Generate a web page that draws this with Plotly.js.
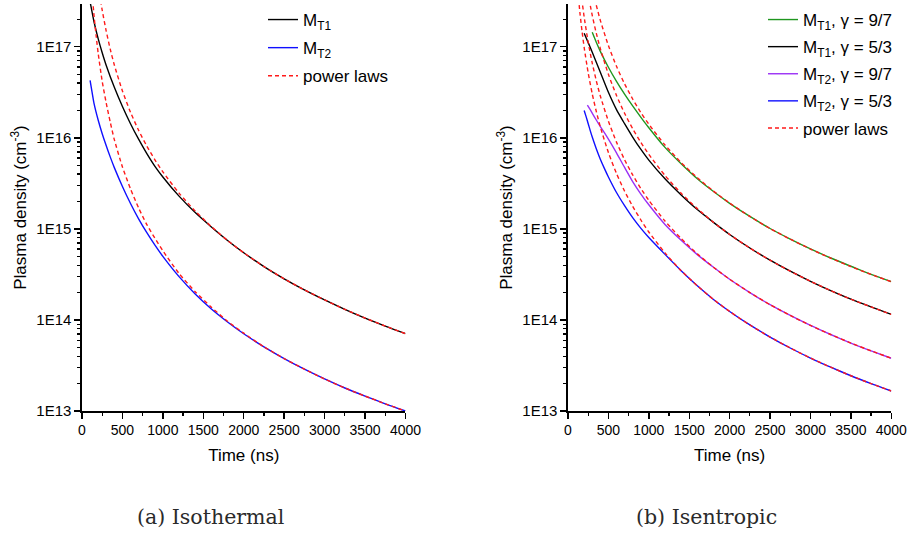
<!DOCTYPE html>
<html>
<head>
<meta charset="utf-8">
<script src="https://cdn.plot.ly/plotly-3.0.1.min.js"></script>
<style>html,body{margin:0;padding:0;background:#fff;}#chart{width:912px;height:537px;}</style>
</head>
<body>
<div id="chart"></div>
<script>
// ---------- (a) Isothermal ----------
var isoT1Time = [100,150,200,250,300,400,500,600,700,800,900,1000,1200,1400,1600,1800,2000,2250,2500,2750,3000,3250,3500,3750,4000];
var isoT1Dens = [3.13e17,1.86e17,1.23e17,8.61e16,6.24e16,3.59e16,2.21e16,1.43e16,9.66e15,6.76e15,4.90e15,3.72e15,2.29e15,1.51e15,1.05e15,7.46e14,5.47e14,3.86e14,2.83e14,2.14e14,1.66e14,1.31e14,1.05e14,8.57e13,7.08e13];

var isoT1PLTime = [230,250,300,350,400,500,600,700,800,900,1000,1200,1400,1600,1800,2000,2250,2500,2750,3000,3250,3500,3750,4000];
var isoT1PLDens = [3.23e17,2.52e17,1.48e17,9.35e16,6.31e16,3.27e16,1.91e16,1.21e16,8.17e15,5.77e15,4.23e15,2.47e15,1.57e15,1.06e15,7.46e14,5.47e14,3.86e14,2.83e14,2.14e14,1.66e14,1.31e14,1.05e14,8.57e13,7.08e13];

var isoT2Time = [100,125,150,200,250,300,350,400,500,600,700,800,900,1000,1200,1400,1600,1800,2000,2250,2500,2750,3000,3250,3500,3750,4000];
var isoT2Dens = [4.27e16,3.16e16,2.36e16,1.57e16,1.11e16,8.17e15,6.14e15,4.71e15,2.92e15,1.90e15,1.29e15,9.14e14,6.67e14,4.99e14,2.99e14,1.93e14,1.32e14,9.51e13,7.06e13,5.07e13,3.77e13,2.88e13,2.25e13,1.79e13,1.46e13,1.20e13,1.00e13];

var isoT2PLTime = [125,150,175,200,250,300,350,400,500,600,700,800,900,1000,1200,1400,1600,1800,2000,2250,2500,2750,3000,3250,3500,3750,4000];
var isoT2PLDens = [3.98e17,2.14e17,1.32e17,8.51e16,4.17e16,2.40e16,1.48e16,9.55e15,4.79e15,2.75e15,1.70e15,1.12e15,7.94e14,5.75e14,3.24e14,2.04e14,1.38e14,9.66e13,7.16e13,5.07e13,3.77e13,2.88e13,2.25e13,1.79e13,1.46e13,1.20e13,1.00e13];

// ---------- (b) Isentropic ----------
var T1g97Time = [300,350,400,500,600,700,800,900,1000,1200,1400,1600,1800,2000,2250,2500,2750,3000,3250,3500,3750,4000];
var T1g97Dens = [1.44e17,1.12e17,8.91e16,5.96e16,4.17e16,3.02e16,2.24e16,1.69e16,1.29e16,7.85e15,5.19e15,3.55e15,2.57e15,1.91e15,1.37e15,1.01e15,7.73e14,6.03e14,4.79e14,3.89e14,3.16e14,2.63e14];
var T1g97PLTime = [330,350,400,500,600,700,800,900,1000,1200,1400,1600,1800,2000,2250,2500,2750,3000,3250,3500,3750,4000];
var T1g97PLDens = [3.39e17,2.86e17,1.95e17,1.03e17,6.10e16,3.92e16,2.67e16,1.90e16,1.41e16,8.34e15,5.35e15,3.65e15,2.60e15,1.92e15,1.37e15,1.01e15,7.71e14,6.01e14,4.78e14,3.86e14,3.16e14,2.63e14];

var T1g53Time = [200,250,300,400,500,600,700,800,900,1000,1200,1400,1600,1800,2000,2250,2500,2750,3000,3250,3500,3750,4000];
var T1g53Dens = [1.41e17,1.11e17,8.71e16,5.25e16,3.16e16,2.04e16,1.43e16,1.02e16,7.50e15,5.69e15,3.55e15,2.36e15,1.63e15,1.18e15,8.69e14,6.17e14,4.53e14,3.43e14,2.66e14,2.10e14,1.69e14,1.39e14,1.15e14];
var T1g53PLTime = [260,300,350,400,500,600,700,800,900,1000,1200,1400,1600,1800,2000,2250,2500,2750,3000,3250,3500,3750,4000];
var T1g53PLDens = [3.36e17,2.21e17,1.41e17,9.55e16,4.98e16,2.92e16,1.86e16,1.26e16,8.95e15,6.58e15,3.86e15,2.46e15,1.67e15,1.18e15,8.69e14,6.17e14,4.53e14,3.43e14,2.66e14,2.10e14,1.69e14,1.39e14,1.15e14];

var T2g97Time = [240,275,310,350,400,450,500,600,700,800,900,1000,1200,1400,1600,1800,2000,2250,2500,2750,3000,3250,3500,3750,4000];
var T2g97Dens = [2.29e16,2.04e16,1.80e16,1.57e16,1.33e16,1.14e16,9.66e15,6.84e15,4.73e15,3.31e15,2.43e15,1.84e15,1.12e15,7.50e14,5.22e14,3.79e14,2.80e14,2.00e14,1.47e14,1.12e14,8.71e13,6.92e13,5.58e13,4.58e13,3.80e13];
var T2g97PLTime = [170,200,250,300,350,400,500,600,700,800,900,1000,1200,1400,1600,1800,2000,2250,2500,2750,3000,3250,3500,3750,4000];
var T2g97PLDens = [3.39e17,2.12e17,1.12e17,6.61e16,4.24e16,2.88e16,1.52e16,8.97e15,5.75e15,3.92e15,2.79e15,2.06e15,1.22e15,7.82e14,5.32e14,3.79e14,2.80e14,2.00e14,1.47e14,1.12e14,8.71e13,6.92e13,5.58e13,4.58e13,3.80e13];

var T2g53Time = [200,225,250,275,300,350,400,450,500,600,700,800,900,1000,1200,1400,1600,1800,2000,2250,2500,2750,3000,3250,3500,3750,4000];
var T2g53Dens = [2.00e16,1.70e16,1.43e16,1.20e16,1.02e16,7.59e15,5.82e15,4.62e15,3.72e15,2.51e15,1.80e15,1.33e15,1.02e15,8.04e14,5.25e14,3.47e14,2.37e14,1.68e14,1.24e14,8.81e13,6.49e13,4.92e13,3.82e13,3.03e13,2.44e13,2.00e13,1.66e13];
var T2g53PLTime = [130,150,175,200,250,300,350,400,500,600,700,800,900,1000,1200,1400,1600,1800,2000,2250,2500,2750,3000,3250,3500,3750,4000];
var T2g53PLDens = [3.43e17,2.26e17,1.45e17,9.84e16,5.15e16,3.04e16,1.95e16,1.32e16,6.90e15,4.06e15,2.60e15,1.77e15,1.26e15,9.25e14,5.45e14,3.48e14,2.37e14,1.68e14,1.24e14,8.81e13,6.49e13,4.92e13,3.82e13,3.03e13,2.44e13,2.00e13,1.66e13];

var xTickVals = [0,500,1000,1500,2000,2500,3000,3500,4000];
var yTickVals = [1e13,1e14,1e15,1e16,1e17];
var yTickText = ['1E13','1E14','1E15','1E16','1E17'];
var captions = ['(a) Isothermal','(b) Isentropic'];

// ---------- styling ----------
var FONT = '"Liberation Sans", Arial, sans-serif';
var RED = '#ff1a1a';
var DASH = '4px,3px';
var LW = 1.4;

function solid(x, y, name, color, xa, ya, leg, grp) {
  return {type:'scatter', mode:'lines', x:x, y:y, name:name, xaxis:xa, yaxis:ya, legend:leg, legendgroup:grp,
          line:{color:color, width:LW, shape:'spline', smoothing:0.6}};
}
function pl(x, y, xa, ya, leg, show, grp) {
  return {type:'scatter', mode:'lines', x:x, y:y, name:'power laws', xaxis:xa, yaxis:ya, legend:leg, legendgroup:grp,
          showlegend:show, line:{color:RED, width:LW, dash:DASH, shape:'spline', smoothing:0.6}};
}

var traces = [
  solid(isoT1Time, isoT1Dens, 'M<sub>T1</sub>', '#000000', 'x', 'y', 'legend', 'a1'),
  solid(isoT2Time, isoT2Dens, 'M<sub>T2</sub>', '#1010ff', 'x', 'y', 'legend', 'a2'),
  pl(isoT1PLTime, isoT1PLDens, 'x', 'y', 'legend', true, 'a3'),
  pl(isoT2PLTime, isoT2PLDens, 'x', 'y', 'legend', false, 'a3'),

  solid(T1g97Time, T1g97Dens, 'M<sub>T1</sub>, γ = 9/7', '#1f961f', 'x2', 'y2', 'legend2', 'b1'),
  solid(T1g53Time, T1g53Dens, 'M<sub>T1</sub>, γ = 5/3', '#000000', 'x2', 'y2', 'legend2', 'b2'),
  solid(T2g97Time, T2g97Dens, 'M<sub>T2</sub>, γ = 9/7', '#9a30f5', 'x2', 'y2', 'legend2', 'b3'),
  solid(T2g53Time, T2g53Dens, 'M<sub>T2</sub>, γ = 5/3', '#1010ff', 'x2', 'y2', 'legend2', 'b4'),
  pl(T1g97PLTime, T1g97PLDens, 'x2', 'y2', 'legend2', true, 'b5'),
  pl(T1g53PLTime, T1g53PLDens, 'x2', 'y2', 'legend2', false, 'b5'),
  pl(T2g97PLTime, T2g97PLDens, 'x2', 'y2', 'legend2', false, 'b5'),
  pl(T2g53PLTime, T2g53PLDens, 'x2', 'y2', 'legend2', false, 'b5')
];

var minorY = [];
for (var e = 13; e <= 17; e++) for (var m = 2; m <= 9; m++) minorY.push(m * Math.pow(10, e));

function xAxis(dom, ya) {
  return {domain:dom, anchor:ya, range:[0,4000], tickmode:'array', tickvals:xTickVals,
    showline:true, linecolor:'#000', linewidth:1.6, ticks:'outside', ticklen:6, tickwidth:1.4, tickcolor:'#000',
    showgrid:false, zeroline:false, tickfont:{family:FONT, size:14, color:'#000'},
    minor:{dtick:250, ticks:'outside', ticklen:3, tickwidth:1.2, tickcolor:'#000', showgrid:false},
    title:{text:'Time (ns)', font:{family:FONT, size:17, color:'#000'}, standoff:11}};
}
function yAxis(xa) {
  return {domain:[0.2346,0.9926], anchor:xa, type:'log', range:[13,17.47], tickmode:'array',
    tickvals:yTickVals, ticktext:yTickText,
    showline:true, linecolor:'#000', linewidth:1.6, ticks:'outside', ticklen:6, tickwidth:1.4, tickcolor:'#000',
    showgrid:false, zeroline:false, tickfont:{family:FONT, size:15, color:'#000'},
    minor:{tickmode:'array', tickvals:minorY, ticks:'outside', ticklen:3, tickwidth:1.2, tickcolor:'#000', showgrid:false},
    title:{text:'Plasma density (cm<sup>-3</sup>)', font:{family:FONT, size:17, color:'#000'}, standoff:5}};
}

var layout = {
  width:912, height:537, margin:{l:0,r:0,t:0,b:0},
  paper_bgcolor:'#fff', plot_bgcolor:'#fff',
  font:{family:FONT, color:'#000'},
  xaxis: xAxis([0.0899,0.4446], 'y'),
  yaxis: yAxis('x'),
  xaxis2: xAxis([0.6228,0.9773], 'y2'),
  yaxis2: yAxis('x2'),
  legend:{x:263/912, y:1-2/537, xanchor:'left', yanchor:'top', bgcolor:'rgba(0,0,0,0)',
          font:{family:FONT, size:17, color:'#000'}, tracegroupgap:3},
  legend2:{x:763/912, y:1-2/537, xanchor:'left', yanchor:'top', bgcolor:'rgba(0,0,0,0)',
          font:{family:FONT, size:17, color:'#000'}, tracegroupgap:2},
  annotations:[
    {text:captions[0], xref:'paper', yref:'paper', x:210/912, y:1-517/537, xanchor:'center', yanchor:'middle',
     showarrow:false, font:{family:'DejaVu Serif, serif', size:20.5, color:'#2a2a2a'}},
    {text:captions[1], xref:'paper', yref:'paper', x:706/912, y:1-517/537, xanchor:'center', yanchor:'middle',
     showarrow:false, font:{family:'DejaVu Serif, serif', size:20.5, color:'#2a2a2a'}}
  ]
};

Plotly.newPlot('chart', traces, layout, {staticPlot:true, displayModeBar:false});
</script>
</body>
</html>
